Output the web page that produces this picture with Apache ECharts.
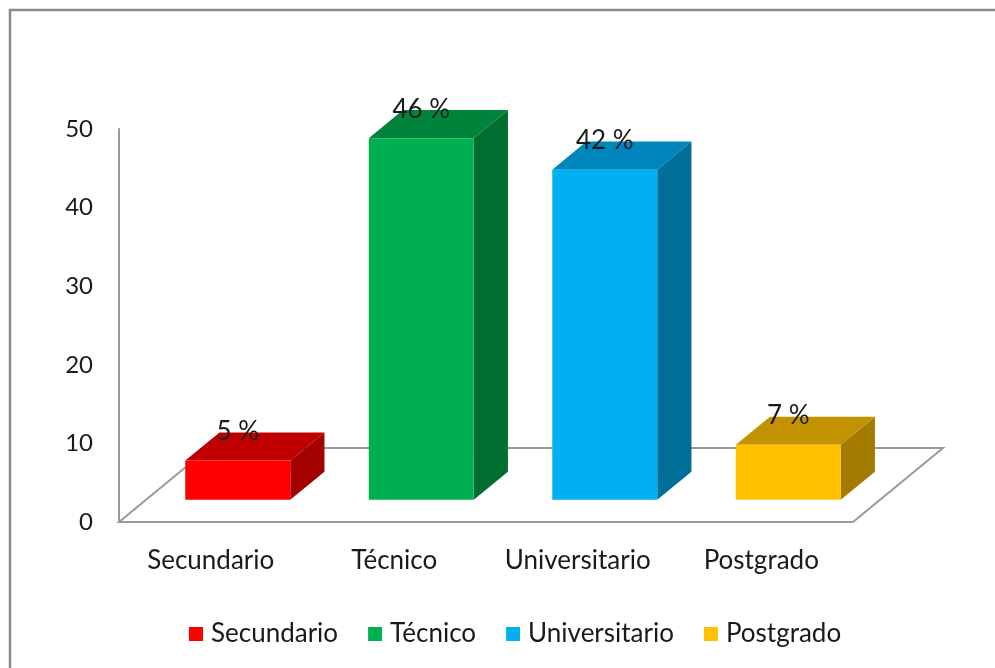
<!DOCTYPE html>
<html>
<head>
<meta charset="utf-8">
<script src="https://cdn.jsdelivr.net/npm/echarts@6/dist/echarts.min.js"></script>
<style>
html,body{margin:0;padding:0;background:#fff;}
#chart{width:995px;height:668px;}
</style>
</head>
<body>
<div id="chart"></div>
<script>
const categories = ['Secundario', 'Técnico', 'Universitario', 'Postgrado'];
const values = [5, 46, 42, 7];
const valueLabels = ['5 %', '46 %', '42 %', '7 %'];
const yTicks = [0, 10, 20, 30, 40, 50];
const frontColors = ['#FF0000', '#00B050', '#00B0F0', '#FFC000'];
const topColors = ['#C00000', '#00843C', '#0086BC', '#C29200'];
const sideColors = ['#A30000', '#006E30', '#006F98', '#A47B00'];

const FONT = 'Lato, "Open Sans", sans-serif';
const TEXT_COLOR = '#1a1a1a';
const LINE_COLOR = '#9a9a9a';
const DEPTH = [90, -74];      // floor depth offset in px
const FRONT_FRAC = 0.30;      // bar front plane within floor depth
const DEPTH_FRAC = 0.38;      // bar depth within floor depth
const BAR_FRAC = 0.572;       // bar width fraction of band

const chart = echarts.init(document.getElementById('chart'), null, {renderer: 'canvas'});

function floorItem(params, api) {
  const band = api.size([1, 0])[0];
  const first = api.coord([0, 0]);
  const last = api.coord([categories.length - 1, 0]);
  const L = first[0] - band / 2, R = last[0] + band / 2, y0 = first[1];
  return {
    type: 'polygon',
    shape: {points: [[L, y0], [R, y0], [R + DEPTH[0], y0 + DEPTH[1]], [L + DEPTH[0], y0 + DEPTH[1]]]},
    style: {fill: 'none', stroke: LINE_COLOR, lineWidth: 2}
  };
}

function barItem(i) {
  return function (params, api) {
    const cat = api.value(0), v = api.value(1);
    const base = api.coord([cat, 0]);
    const top = api.coord([cat, v]);
    const band = api.size([1, 0])[0];
    const w = band * BAR_FRAC;
    const fx = DEPTH[0] * FRONT_FRAC, fy = DEPTH[1] * FRONT_FRAC;
    const dx = DEPTH[0] * DEPTH_FRAC, dy = DEPTH[1] * DEPTH_FRAC;
    const x0 = base[0] - w / 2 + fx, x1 = x0 + w;
    const yb = base[1] + fy, yt = top[1] + fy;
    return {
      type: 'group',
      children: [
        {type: 'polygon', shape: {points: [[x1, yt], [x1 + dx, yt + dy], [x1 + dx, yb + dy], [x1, yb]]},
          style: {fill: sideColors[i]}},
        {type: 'polygon', shape: {points: [[x0, yt], [x1, yt], [x1 + dx, yt + dy], [x0 + dx, yt + dy]]},
          style: {fill: topColors[i]}},
        {type: 'rect', shape: {x: x0, y: yt, width: w, height: yb - yt},
          style: {fill: frontColors[i]}},
        {type: 'text', x: x0 + w / 2, y: yt + dy - 1,
          style: {text: valueLabels[i], fill: TEXT_COLOR, font: '26px ' + FONT, align: 'center', verticalAlign: 'middle'}}
      ]
    };
  };
}

const series = [{
  type: 'custom',
  name: '__floor',
  renderItem: floorItem,
  data: [[0, 0]],
  silent: true,
  z: 1
}].concat(categories.map((c, i) => ({
  type: 'custom',
  name: c,
  renderItem: barItem(i),
  itemStyle: {color: frontColors[i]},
  data: [[i, values[i]]],
  z: 2 + i
})));

chart.setOption({
  animation: false,
  backgroundColor: '#fff',
  graphic: [{
    type: 'rect',
    shape: {x: 10, y: 10, width: 1000, height: 700},
    style: {fill: 'none', stroke: '#8a8a8a', lineWidth: 2.5},
    z: 0
  }],
  grid: {left: 119, right: 142, top: 129, bottom: 146},
  legend: {
    data: categories,
    left: 184,
    top: 616,
    icon: 'rect',
    itemWidth: 14,
    itemHeight: 14,
    itemGap: 30,
    textStyle: {fontFamily: FONT, fontSize: 26, color: TEXT_COLOR, padding: [0, 0, 0, 3]}
  },
  xAxis: {
    type: 'category',
    data: categories,
    axisLine: {show: false},
    axisTick: {show: false},
    axisLabel: {interval: 0, hideOverlap: false, margin: 26, fontFamily: FONT, fontSize: 26, color: TEXT_COLOR}
  },
  yAxis: {
    type: 'value',
    min: yTicks[0],
    max: yTicks[yTicks.length - 1],
    interval: yTicks[1] - yTicks[0],
    axisLine: {show: true, lineStyle: {color: LINE_COLOR, width: 2}},
    axisTick: {show: false},
    splitLine: {show: false},
    axisLabel: {margin: 26, fontFamily: FONT, fontSize: 24, color: TEXT_COLOR}
  },
  series: series
});
</script>
</body>
</html>
